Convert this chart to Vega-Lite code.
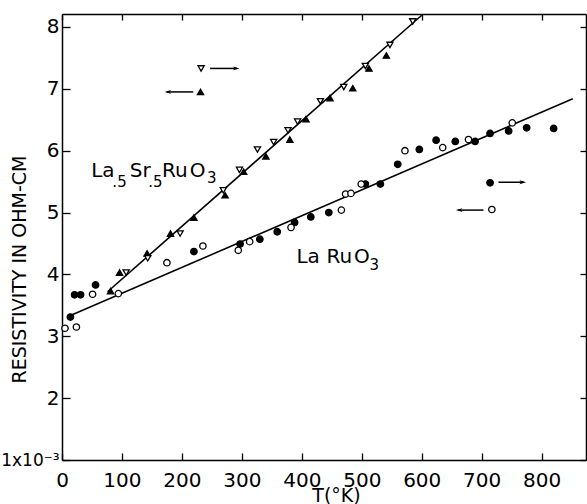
{
  "$schema": "https://vega.github.io/schema/vega-lite/v6.json",
  "autosize": "none",
  "width": 524,
  "height": 446,
  "padding": {"left": 62, "top": 14, "right": 1, "bottom": 44},
  "background": "white",
  "config": {
    "view": {"stroke": null},
    "font": "DejaVu Sans",
    "axis": {
      "domainColor": "black",
      "domainWidth": 1.5,
      "tickColor": "black",
      "tickWidth": 1.3,
      "grid": false,
      "labelColor": "black",
      "titleColor": "black",
      "labelFont": "DejaVu Sans",
      "titleFont": "DejaVu Sans",
      "titleFontWeight": "normal"
    }
  },
  "datasets": {
    "points": [
      {"T": 14, "rho": 3.31, "series": "LaRuO3 heating"},
      {"T": 21, "rho": 3.67, "series": "LaRuO3 heating"},
      {"T": 31, "rho": 3.67, "series": "LaRuO3 heating"},
      {"T": 56, "rho": 3.83, "series": "LaRuO3 heating"},
      {"T": 220, "rho": 4.37, "series": "LaRuO3 heating"},
      {"T": 297, "rho": 4.49, "series": "LaRuO3 heating"},
      {"T": 330, "rho": 4.57, "series": "LaRuO3 heating"},
      {"T": 359, "rho": 4.69, "series": "LaRuO3 heating"},
      {"T": 388, "rho": 4.84, "series": "LaRuO3 heating"},
      {"T": 415, "rho": 4.93, "series": "LaRuO3 heating"},
      {"T": 445, "rho": 5.0, "series": "LaRuO3 heating"},
      {"T": 506, "rho": 5.46, "series": "LaRuO3 heating"},
      {"T": 531, "rho": 5.46, "series": "LaRuO3 heating"},
      {"T": 560, "rho": 5.78, "series": "LaRuO3 heating"},
      {"T": 596, "rho": 6.02, "series": "LaRuO3 heating"},
      {"T": 624, "rho": 6.17, "series": "LaRuO3 heating"},
      {"T": 656, "rho": 6.15, "series": "LaRuO3 heating"},
      {"T": 689, "rho": 6.15, "series": "LaRuO3 heating"},
      {"T": 714, "rho": 6.28, "series": "LaRuO3 heating"},
      {"T": 745, "rho": 6.32, "series": "LaRuO3 heating"},
      {"T": 775, "rho": 6.37, "series": "LaRuO3 heating"},
      {"T": 820, "rho": 6.36, "series": "LaRuO3 heating"},
      {"T": 5, "rho": 3.13, "series": "LaRuO3 cooling"},
      {"T": 24, "rho": 3.15, "series": "LaRuO3 cooling"},
      {"T": 51, "rho": 3.68, "series": "LaRuO3 cooling"},
      {"T": 94, "rho": 3.69, "series": "LaRuO3 cooling"},
      {"T": 175, "rho": 4.19, "series": "LaRuO3 cooling"},
      {"T": 235, "rho": 4.46, "series": "LaRuO3 cooling"},
      {"T": 294, "rho": 4.39, "series": "LaRuO3 cooling"},
      {"T": 313, "rho": 4.53, "series": "LaRuO3 cooling"},
      {"T": 382, "rho": 4.76, "series": "LaRuO3 cooling"},
      {"T": 466, "rho": 5.04, "series": "LaRuO3 cooling"},
      {"T": 473, "rho": 5.3, "series": "LaRuO3 cooling"},
      {"T": 482, "rho": 5.31, "series": "LaRuO3 cooling"},
      {"T": 499, "rho": 5.46, "series": "LaRuO3 cooling"},
      {"T": 572, "rho": 6.0, "series": "LaRuO3 cooling"},
      {"T": 635, "rho": 6.05, "series": "LaRuO3 cooling"},
      {"T": 678, "rho": 6.18, "series": "LaRuO3 cooling"},
      {"T": 751, "rho": 6.45, "series": "LaRuO3 cooling"},
      {"T": 81, "rho": 3.73, "series": "La.5Sr.5RuO3 cooling"},
      {"T": 96, "rho": 4.03, "series": "La.5Sr.5RuO3 cooling"},
      {"T": 142, "rho": 4.34, "series": "La.5Sr.5RuO3 cooling"},
      {"T": 181, "rho": 4.66, "series": "La.5Sr.5RuO3 cooling"},
      {"T": 220, "rho": 4.92, "series": "La.5Sr.5RuO3 cooling"},
      {"T": 272, "rho": 5.28, "series": "La.5Sr.5RuO3 cooling"},
      {"T": 303, "rho": 5.66, "series": "La.5Sr.5RuO3 cooling"},
      {"T": 340, "rho": 5.91, "series": "La.5Sr.5RuO3 cooling"},
      {"T": 380, "rho": 6.18, "series": "La.5Sr.5RuO3 cooling"},
      {"T": 407, "rho": 6.51, "series": "La.5Sr.5RuO3 cooling"},
      {"T": 447, "rho": 6.85, "series": "La.5Sr.5RuO3 cooling"},
      {"T": 485, "rho": 7.01, "series": "La.5Sr.5RuO3 cooling"},
      {"T": 512, "rho": 7.33, "series": "La.5Sr.5RuO3 cooling"},
      {"T": 541, "rho": 7.54, "series": "La.5Sr.5RuO3 cooling"},
      {"T": 107, "rho": 4.03, "series": "La.5Sr.5RuO3 heating"},
      {"T": 143, "rho": 4.26, "series": "La.5Sr.5RuO3 heating"},
      {"T": 197, "rho": 4.66, "series": "La.5Sr.5RuO3 heating"},
      {"T": 269, "rho": 5.36, "series": "La.5Sr.5RuO3 heating"},
      {"T": 296, "rho": 5.69, "series": "La.5Sr.5RuO3 heating"},
      {"T": 326, "rho": 6.02, "series": "La.5Sr.5RuO3 heating"},
      {"T": 353, "rho": 6.14, "series": "La.5Sr.5RuO3 heating"},
      {"T": 377, "rho": 6.33, "series": "La.5Sr.5RuO3 heating"},
      {"T": 393, "rho": 6.47, "series": "La.5Sr.5RuO3 heating"},
      {"T": 431, "rho": 6.8, "series": "La.5Sr.5RuO3 heating"},
      {"T": 470, "rho": 7.03, "series": "La.5Sr.5RuO3 heating"},
      {"T": 506, "rho": 7.37, "series": "La.5Sr.5RuO3 heating"},
      {"T": 547, "rho": 7.71, "series": "La.5Sr.5RuO3 heating"},
      {"T": 585, "rho": 8.09, "series": "La.5Sr.5RuO3 heating"}
    ],
    "fits": [
      {"T": 15, "rho": 3.34, "sample": "LaRuO3"},
      {"T": 852, "rho": 6.84, "sample": "LaRuO3"},
      {"T": 76, "rho": 3.72, "sample": "La.5Sr.5RuO3"},
      {"T": 600, "rho": 8.19, "sample": "La.5Sr.5RuO3"}
    ],
    "keys": [
      {"T": 232, "rho": 7.33, "series": "La.5Sr.5RuO3 heating"},
      {"T": 231, "rho": 6.95, "series": "La.5Sr.5RuO3 cooling"},
      {"T": 714, "rho": 5.48, "series": "LaRuO3 heating"},
      {"T": 717, "rho": 5.05, "series": "LaRuO3 cooling"}
    ],
    "arrows": [
      {"from": 247, "to": 292, "rho": 7.33, "dir": "right"},
      {"from": 219, "to": 175, "rho": 6.95, "dir": "left"},
      {"from": 728, "to": 770, "rho": 5.49, "dir": "right"},
      {"from": 703, "to": 661, "rho": 5.04, "dir": "left"}
    ],
    "labels": [
      {"T": 48.7, "rho": 5.58, "text": "La", "kind": "main"},
      {"T": 84, "rho": 5.42, "text": ".5", "kind": "sub"},
      {"T": 113, "rho": 5.58, "text": "Sr", "kind": "main"},
      {"T": 144, "rho": 5.42, "text": ".5", "kind": "sub"},
      {"T": 167, "rho": 5.58, "text": "Ru", "kind": "main"},
      {"T": 213, "rho": 5.58, "text": "O", "kind": "main"},
      {"T": 242, "rho": 5.48, "text": "3", "kind": "sub"},
      {"T": 391, "rho": 4.18, "text": "La", "kind": "main"},
      {"T": 441, "rho": 4.18, "text": "Ru", "kind": "main"},
      {"T": 487, "rho": 4.18, "text": "O", "kind": "main"},
      {"T": 513, "rho": 4.07, "text": "3", "kind": "sub"}
    ]
  },
  "layer": [
    {
      "data": {"name": "fits"},
      "mark": {"type": "line", "color": "black", "strokeWidth": 1.6},
      "encoding": {
        "x": {
          "field": "T", "type": "quantitative",
          "scale": {"domain": [0, 874], "nice": false, "zero": false},
          "axis": {
            "orient": "bottom",
            "values": [0, 100, 200, 300, 400, 500, 600, 700, 800],
            "tickSize": -7,
            "labelPadding": 17,
            "labelFontSize": 20,
            "labelFlush": false,
            "title": "T(°K)",
            "titleFontSize": 19,
            "titleX": 274,
            "titleY": 41,
            "titleAnchor": null,
            "titleBaseline": "alphabetic"
          }
        },
        "y": {
          "field": "rho", "type": "quantitative",
          "scale": {"domain": [1, 8.21], "nice": false, "zero": false},
          "axis": {
            "orient": "left",
            "values": [1, 2, 3, 4, 5, 6, 7, 8],
            "tickSize": -8,
            "labelPadding": 11,
            "labelFontSize": {"condition": {"test": "datum.value == 1", "value": 17}, "value": 20},
            "labelFlush": false,
            "labelExpr": "datum.value == 1 ? '1x10⁻³' : datum.label",
            "title": "RESISTIVITY   IN   OHM-CM",
            "titleFontSize": 19,
            "titleX": -43,
            "titleY": 255,
            "titleAngle": -90,
            "titleAlign": "center",
            "titleBaseline": "middle"
          }
        },
        "detail": {"field": "sample"}
      }
    },
    {
      "data": {"name": "points"},
      "mark": {"type": "point", "stroke": "black", "strokeWidth": 1.3, "opacity": 1},
      "encoding": {
        "x": {
          "field": "T", "type": "quantitative",
          "axis": {
            "orient": "top",
            "values": [0, 100, 200, 300, 400, 500, 600, 700, 800],
            "tickSize": -6,
            "labels": false,
            "title": null
          }
        },
        "y": {
          "field": "rho", "type": "quantitative",
          "axis": {
            "orient": "right",
            "values": [1, 2, 3, 4, 5, 6, 7, 8],
            "tickSize": -6,
            "labels": false,
            "title": null
          }
        },
        "shape": {
          "field": "series", "type": "nominal", "legend": null,
          "scale": {
            "domain": ["LaRuO3 heating", "LaRuO3 cooling", "La.5Sr.5RuO3 cooling", "La.5Sr.5RuO3 heating"],
            "range": ["circle", "circle", "triangle-up", "triangle-down"]
          }
        },
        "fill": {
          "field": "series", "type": "nominal", "legend": null,
          "scale": {
            "domain": ["LaRuO3 heating", "LaRuO3 cooling", "La.5Sr.5RuO3 cooling", "La.5Sr.5RuO3 heating"],
            "range": ["black", "white", "black", "white"]
          }
        },
        "size": {
          "field": "series", "type": "nominal", "legend": null,
          "scale": {
            "domain": ["LaRuO3 heating", "LaRuO3 cooling", "La.5Sr.5RuO3 cooling", "La.5Sr.5RuO3 heating"],
            "range": [42, 38, 60, 52]
          }
        }
      }
    },
    {
      "data": {"name": "keys"},
      "mark": {"type": "point", "stroke": "black", "strokeWidth": 1.3, "opacity": 1},
      "encoding": {
        "x": {"field": "T", "type": "quantitative", "axis": null},
        "y": {"field": "rho", "type": "quantitative", "axis": null},
        "shape": {"field": "series", "type": "nominal", "legend": null},
        "fill": {"field": "series", "type": "nominal", "legend": null},
        "size": {"field": "series", "type": "nominal", "legend": null}
      }
    },
    {
      "data": {"name": "arrows"},
      "mark": {"type": "rule", "color": "black", "strokeWidth": 1.5},
      "encoding": {
        "x": {"field": "from", "type": "quantitative", "axis": null},
        "x2": {"field": "to"},
        "y": {"field": "rho", "type": "quantitative", "axis": null}
      }
    },
    {
      "data": {"name": "arrows"},
      "transform": [{"filter": "datum.dir == 'right'"}],
      "mark": {"type": "point", "filled": true, "color": "black", "size": 70, "opacity": 1,
               "shape": "M -1 -0.45 L 0.6 0 L -1 0.45 L -0.6 0 Z"},
      "encoding": {
        "x": {"field": "to", "type": "quantitative", "axis": null},
        "y": {"field": "rho", "type": "quantitative", "axis": null}
      }
    },
    {
      "data": {"name": "arrows"},
      "transform": [{"filter": "datum.dir == 'left'"}],
      "mark": {"type": "point", "filled": true, "color": "black", "size": 70, "opacity": 1,
               "shape": "M 1 -0.45 L -0.6 0 L 1 0.45 L 0.6 0 Z"},
      "encoding": {
        "x": {"field": "to", "type": "quantitative", "axis": null},
        "y": {"field": "rho", "type": "quantitative", "axis": null}
      }
    },
    {
      "data": {"name": "labels"},
      "transform": [{"filter": "datum.kind == 'main'"}],
      "mark": {"type": "text", "align": "left", "baseline": "alphabetic", "fontSize": 20, "color": "black"},
      "encoding": {
        "x": {"field": "T", "type": "quantitative", "axis": null},
        "y": {"field": "rho", "type": "quantitative", "axis": null},
        "text": {"field": "text"}
      }
    },
    {
      "data": {"name": "labels"},
      "transform": [{"filter": "datum.kind == 'sub'"}],
      "mark": {"type": "text", "align": "left", "baseline": "alphabetic", "fontSize": 15, "color": "black"},
      "encoding": {
        "x": {"field": "T", "type": "quantitative", "axis": null},
        "y": {"field": "rho", "type": "quantitative", "axis": null},
        "text": {"field": "text"}
      }
    }
  ],
  "resolve": {"axis": {"x": "independent", "y": "independent"}}
}
